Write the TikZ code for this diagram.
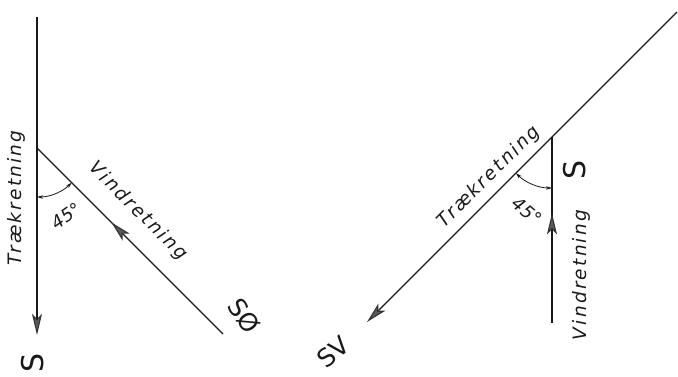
\documentclass[tikz,border=0pt]{standalone}
\usepackage{fontspec}
\newfontfamily\handfont[LetterSpace=12]{DejaVu Sans}
\newfontfamily\bigfont{DejaVu Sans}
\usetikzlibrary{arrows.meta,decorations.markings}
\tikzset{
  ink/.style={draw=black!90, line width=1.1pt},
  bigtip/.style={-{Stealth[length=21pt,width=10pt,inset=5pt,color=black!80,fill=black!65]}},
  smalltip/.style={{Stealth[length=6pt,width=3.5pt]}-{Stealth[length=6pt,width=3.5pt]}},
  midtip/.style={postaction={decorate}, decoration={markings,
     mark=at position #1 with {\arrow{Stealth[length=21pt,width=10pt,inset=5pt,color=black!80,fill=black!65]}}}},
  lab/.style={font=\handfont\itshape\fontsize{18.5}{18.5}\selectfont, inner sep=0pt, text=black!90},
  deg/.style={font=\bigfont\itshape\fontsize{18}{18}\selectfont, inner sep=0pt, text=black!90},
  compass/.style={font=\bigfont\fontsize{30}{30}\selectfont, inner sep=0pt, text=black!90},
  compasstwo/.style={font=\bigfont\fontsize{25}{25}\selectfont, inner sep=0pt, text=black!90},
}
\begin{document}
\begin{tikzpicture}[x=1pt,y=1pt]
\useasboundingbox (0,0) rectangle (678,376);
% ---- left figure ----
\coordinate (Ltop) at (37,359);
\coordinate (A) at (37,228);
\coordinate (Ltip) at (37,41);
\coordinate (SE) at (223,42);
\draw[ink,bigtip] (Ltop) -- (Ltip);
\draw[ink,midtip=0.6] (SE) -- (A);
\draw[ink,line width=0.8pt,smalltip] ([shift={(270:49)}]A) arc[start angle=270,end angle=315,radius=49];
\node[deg,rotate=35] (d1) at (66,160) {45°};
\node[lab,rotate=90] (t1) at (16,178) {Trækretning};
\node[lab,rotate=-45] (v1) at (138,165) {Vindretning};
\node[compass,rotate=90] (s1) at (33,13) {S};
\node[compasstwo,rotate=-55] (se1) at (244,60) {SØ};
% ---- right figure ----
\coordinate (Rtop) at (677,364);
\coordinate (B) at (552,239);
\coordinate (Rtip) at (367,54);
\coordinate (Rbot) at (552,53);
\draw[ink,bigtip] (Rtop) -- (Rtip);
\draw[ink,midtip=0.59] (Rbot) -- (B);
\draw[ink,line width=0.8pt,smalltip] ([shift={(225:51)}]B) arc[start angle=225,end angle=270,radius=51];
\node[deg,rotate=-40] (d2) at (527,165) {45°};
\node[lab,rotate=45] (t2) at (489,199) {Trækretning};
\node[compass,rotate=90] (s2) at (575,206) {S};
\node[lab,rotate=90] (v2) at (581,101) {Vindretning};
\node[compasstwo,rotate=40] (sv) at (333,24) {SV};
\end{tikzpicture}
\end{document}
